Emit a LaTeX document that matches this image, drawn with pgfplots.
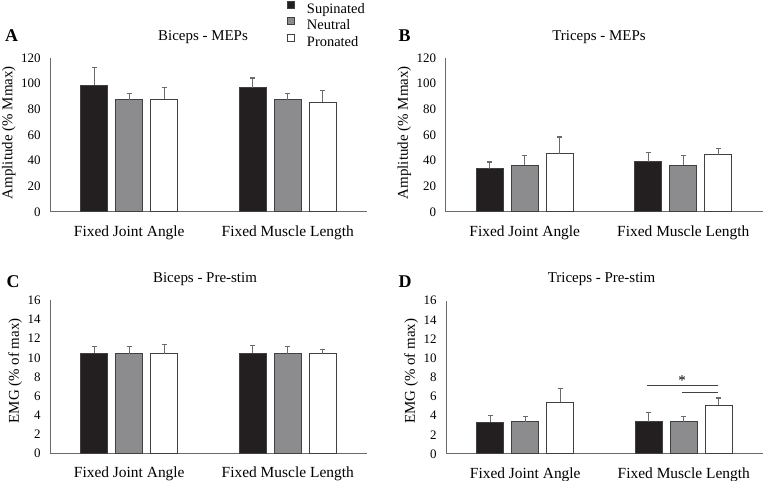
\documentclass[border=0pt]{standalone}
\usepackage{pgfplots}
\pgfplotsset{compat=1.18}
\usepackage{fontspec}
\setmainfont{Liberation Serif}

\definecolor{cSup}{HTML}{231F20}
\definecolor{cNeu}{HTML}{8C8C8E}
\definecolor{cEdge}{HTML}{404040}
\definecolor{cAxis}{HTML}{6A6A6A}

\pgfplotsset{
  panel/.style={
    scale only axis, width=317bp, height=154bp,
    axis lines=left, axis line style={cAxis, line width=1bp, -},
    xmin=-0.5, xmax=1.5, ymin=0,
    xtick={0,1}, xticklabels={Fixed Joint Angle, Fixed Muscle Length},
    major tick length=0pt,
    xticklabel style={font=\fontsize{15.5}{17}\selectfont, yshift=-10bp},
    yticklabel style={font=\fontsize{13}{15}\selectfont, xshift=-6bp},
    /pgf/number format/assume math mode=true,
    ylabel style={font=\fontsize{15}{17}\selectfont, anchor=center},
    ybar=8bp, bar width=27bp,
    error bars/y dir=plus, error bars/y explicit,
    error bars/error bar style={cAxis, line width=1.2bp},
    error bars/error mark options={rotate=90, mark size=2.6bp, line width=1.2bp, cAxis},
    clip=false,
  },
  sup/.style={fill=cSup, draw=cEdge, line width=1bp},
  neu/.style={fill=cNeu, draw=cEdge, line width=1bp},
  pro/.style={fill=white, draw=cEdge, line width=1bp},
}

\begin{document}
\begin{tikzpicture}[x=1bp,y=1bp]
\path[use as bounding box] (0,0) rectangle (764,481);

% ---- A: Biceps MEPs ----
\begin{axis}[panel, at={(50bp,269bp)}, anchor=south west,
    ymax=120, ytick={0,20,...,120},
    ylabel={Amplitude (\% Mmax)},
    ylabel style={at={(axis description cs:-0.13,0.515)}},
    legend style={at={(axis description cs:0.7476,1.371)}, anchor=north west,
      draw=none, fill=none, inner sep=0pt, outer sep=0pt,
      font=\fontsize{14.5}{16}\selectfont,
      nodes={inner sep=0pt, text height=10bp, text depth=3bp},
      row sep=1.25bp, column sep=12bp},
    legend image code/.code={\draw[#1, draw=cEdge, line width=1bp] (0bp,1.3bp) rectangle (7bp,8.3bp);},
    legend cell align=left,
]
\addplot[sup] coordinates {(0,98.9) +- (0,13.8) (1,97.0) +- (0,7.4)};
\addplot[neu] coordinates {(0,87.4) +- (0,4.9) (1,87.4) +- (0,4.9)};
\addplot[pro] coordinates {(0,87.9) +- (0,9.1) (1,85.6) +- (0,8.8)};
\legend{Supinated, Neutral, Pronated}
\end{axis}

% ---- B: Triceps MEPs ----
\begin{axis}[panel, at={(445.5bp,269bp)}, anchor=south west,
    ymax=120, ytick={0,20,...,120},
    ylabel={Amplitude (\% Mmax)},
    ylabel style={at={(axis description cs:-0.13,0.515)}},
]
\addplot[sup] coordinates {(0,33.8) +- (0,5.2) (1,39.0) +- (0,7.2)};
\addplot[neu] coordinates {(0,36.6) +- (0,7.6) (1,36.6) +- (0,7.6)};
\addplot[pro] coordinates {(0,45.2) +- (0,13.2) (1,44.7) +- (0,4.7)};
\end{axis}

% ---- C: Biceps pre-stim ----
\begin{axis}[panel, at={(50bp,27.3bp)}, anchor=south west, height=153.4bp,
    ymax=16, ytick={0,2,...,16},
    ylabel={EMG (\% of max)},
    ylabel style={at={(axis description cs:-0.11,0.54)}},
]
\addplot[sup] coordinates {(0,10.5) +- (0,0.7) (1,10.5) +- (0,0.77)};
\addplot[neu] coordinates {(0,10.4) +- (0,0.8) (1,10.4) +- (0,0.8)};
\addplot[pro] coordinates {(0,10.43) +- (0,0.98) (1,10.43) +- (0,0.45)};
\end{axis}

% ---- D: Triceps pre-stim ----
\begin{axis}[panel, at={(446bp,27bp)}, anchor=south west, height=153.4bp,
    ymax=16, ytick={0,2,...,16},
    ylabel={EMG (\% of max)},
    ylabel style={at={(axis description cs:-0.11,0.54)}},
]
\addplot[sup] coordinates {(0,3.30) +- (0,0.73) (1,3.37) +- (0,0.94)};
\addplot[neu] coordinates {(0,3.37) +- (0,0.53) (1,3.37) +- (0,0.53)};
\addplot[pro] coordinates {(0,5.39) +- (0,1.46) (1,5.08) +- (0,0.76)};
\draw[cSup!85, line width=1bp] (axis cs:0.77,7.13) -- (axis cs:1.215,7.13);
\draw[cSup!85, line width=1bp] (axis cs:0.99,6.44) -- (axis cs:1.215,6.44);
\node[anchor=base, font=\fontsize{15}{17}\selectfont, inner sep=0pt] at (axis cs:0.99,7.1) {*};
\end{axis}

% titles and panel letters
\begin{scope}[every node/.style={anchor=base, inner sep=0pt}]
\node[font=\fontsize{15}{17}\selectfont] at (203,440.3) {Biceps - MEPs};
\node[font=\fontsize{15}{17}\selectfont] at (599,440.3) {Triceps - MEPs};
\node[font=\fontsize{15}{17}\selectfont] at (205,198.3) {Biceps - Pre-stim};
\node[font=\fontsize{15}{17}\selectfont] at (601.5,198.3) {Triceps - Pre-stim};
\node[font=\fontsize{18}{20}\selectfont\bfseries] at (11.5,439) {A};
\node[font=\fontsize{18}{20}\selectfont\bfseries] at (404.5,439) {B};
\node[font=\fontsize{18}{20}\selectfont\bfseries] at (13,193) {C};
\node[font=\fontsize{18}{20}\selectfont\bfseries] at (405,193) {D};
\end{scope}
\end{tikzpicture}
\end{document}
